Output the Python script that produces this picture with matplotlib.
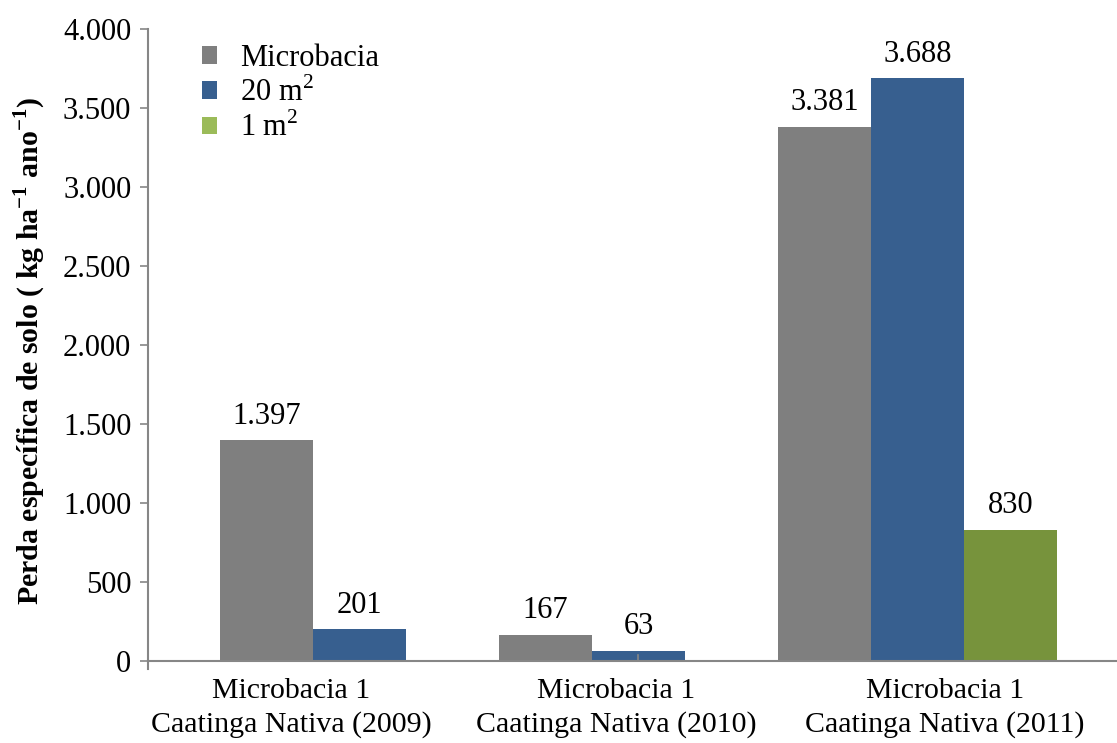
import matplotlib
matplotlib.use("Agg")
import matplotlib.pyplot as plt
from matplotlib.patches import Patch
from matplotlib.lines import Line2D
import matplotlib.transforms as mtransforms
import numpy as np

plt.rcParams['font.family'] = ['Liberation Serif', 'DejaVu Serif']
plt.rcParams['mathtext.fontset'] = 'custom'
plt.rcParams['mathtext.rm'] = 'Liberation Serif'
plt.rcParams['mathtext.bf'] = 'Liberation Serif:bold'

# Data
categories = ["Microbacia 1\nCaatinga Nativa (2009)",
              "Microbacia 1\nCaatinga Nativa (2010)",
              "Microbacia 1\nCaatinga Nativa (2011)"]
series_names = ["Microbacia", "20 m$^2$", "1 m$^2$"]
microbacia = [1397, 167, 3381]
area_20m2 = [201, 63, 3688]
area_1m2 = [None, None, 830]
yticks = [0, 500, 1000, 1500, 2000, 2500, 3000, 3500, 4000]

bar_colors = ["#7F7F7F", "#375F8F", "#77933C"]
legend_colors = ["#7F7F7F", "#375F8F", "#9BBB59"]

def fmt(v):
    return f"{v:,}".replace(",", ".")

fig = plt.figure(figsize=(11.17, 7.43), dpi=100)
W, H = 1117, 743
ax = fig.add_axes([148 / W, (H - 661) / H, (W - 148) / W, (661 - 29) / H])

x = np.arange(len(categories))
width = 1 / 3
series = [microbacia, area_20m2, area_1m2]
for i, (vals, col) in enumerate(zip(series, bar_colors)):
    offs = (i - 1) * width
    for xi, v in zip(x, vals):
        if v is None:
            continue
        ax.bar(xi + offs, v, width=width, color=col, zorder=2)
        ax.annotate(fmt(v), (xi + offs, v), xytext=(0, 7), textcoords="offset points",
                    ha="center", va="bottom", fontsize=22)

ax.set_ylim(0, 4000)
ax.set_yticks(yticks)
ax.set_yticklabels([fmt(t) for t in yticks], fontsize=22)
ax.set_xlim(-0.758, 2.715)

label_pos = [-0.245, 0.919, 2.099]
ax.set_xticks(label_pos)
ax.set_xticklabels(categories, fontsize=21.5, linespacing=1.38)
ax.tick_params(axis="x", length=0, pad=12)
ax.tick_params(axis="y", length=6, width=1.2, color="#868686", direction="out", pad=6)

for s in ["top", "right"]:
    ax.spines[s].set_visible(False)
for s in ["left", "bottom"]:
    ax.spines[s].set_color("#868686")
    ax.spines[s].set_linewidth(1.5)
    ax.spines[s].set_zorder(3)

# category divider ticks on the horizontal axis
trans = mtransforms.blended_transform_factory(ax.transData, ax.transAxes)
ax.add_line(Line2D([-0.758, -0.758], [0, -0.013], transform=trans, color="#868686",
                   lw=1.5, clip_on=False, zorder=3))
ax.add_line(Line2D([1.0, 1.0], [0, 0.009], transform=trans, color="#868686",
                   lw=1.2, clip_on=False, zorder=3))

handles = [Patch(facecolor=c, edgecolor="none") for c in legend_colors]
ax.legend(handles, series_names, loc="upper left", bbox_to_anchor=(0.027, 1.02),
          frameon=False, fontsize=22, handlelength=0.5, handleheight=0.5,
          handletextpad=0.75, labelspacing=0.15)

fig.text(30 / W, 1 - 351 / H,
         r"Perda específica de solo ( kg ha$^{\mathbf{-1}}$ ano$^{\mathbf{-1}}$)",
         rotation=90, ha="center", va="center", fontsize=21.5, fontweight="bold")

fig.savefig("out.png", dpi=100)
